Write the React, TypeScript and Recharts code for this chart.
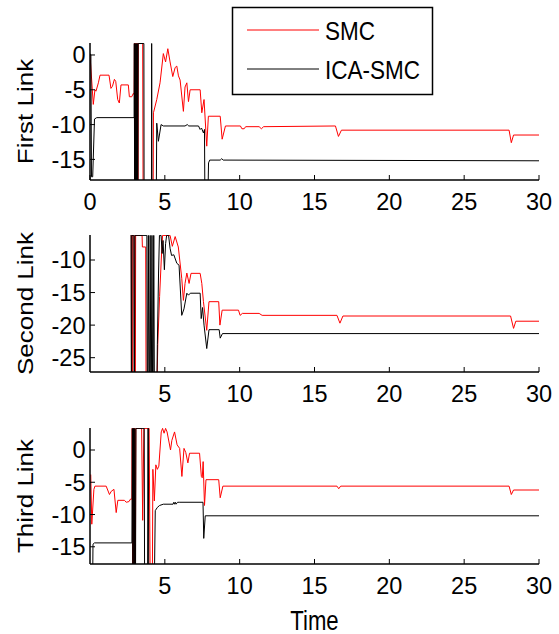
import { LineChart, Line, XAxis, YAxis } from 'recharts'

type Pt = [number, number]

const FONT = '"Liberation Sans", Arial, Helvetica, sans-serif'

const X_TICKS_FIRST = [0, 5, 10, 15, 20, 25, 30]
const X_TICKS = [5, 10, 15, 20, 25, 30]
const Y_TICKS_1 = [-15, -10, -5, 0]
const Y_TICKS_2 = [-25, -20, -15, -10]
const Y_TICKS_3 = [-15, -10, -5, 0]
const LEGEND = ['SMC', 'ICA-SMC']

// [time, value]; the fast switching near t=3..4.4 runs off the axes
const LINK1_SMC: Pt[] = [
  [0, 0], [0.22, -7.1], [0.33, -5.0], [0.4, -5.2], [0.56, -4.0], [0.67, -2.9], [1.27, -2.9],
  [1.4, -4.8], [1.5, -4.5], [1.63, -3.5], [1.72, -3.8], [1.85, -6.4], [1.96, -6.9], [2.07, -4.3],
  [2.56, -4.3], [2.63, -6.0], [2.79, -6.0], [2.9, -5.5], [2.95, -5.7],
  [2.97, 1.65], [3.0, -30], [3.03, 1.65], [3.06, -30], [3.1, 1.65], [3.13, -30], [3.17, 1.65],
  [3.2, -30], [3.23, 1.65], [3.52, 1.65], [3.56, -30], [4.2, -30],
  [4.24, -8.3], [4.46, -6.4], [4.68, -4.0], [4.9, 0.2], [5.05, -1.0], [5.2, 0.9], [5.35, -1.0],
  [5.53, -3.1], [5.69, -1.8], [5.8, -1.6], [5.91, -3.0], [6.02, -3.6], [6.24, -8.1], [6.35, -4.6],
  [6.47, -4.0], [6.58, -6.7], [6.69, -5.0], [7.36, -5.0], [7.47, -8.3], [7.62, -6.4], [7.8, -13.1],
  [7.91, -8.8], [8.7, -8.8], [8.83, -12.1], [9.05, -10.2], [10.05, -10.2], [10.15, -10.6],
  [10.3, -10.6], [10.4, -10.3], [11.3, -10.3], [11.45, -10.6], [11.6, -10.3], [16.4, -10.2],
  [16.6, -11.7], [16.8, -10.8], [28.0, -10.8], [28.15, -12.6], [28.3, -11.5], [30, -11.5],
]
const LINK1_ICA: Pt[] = [
  [0, 0.2], [0.06, 0], [0.1, -17.5], [0.18, -17.5], [0.3, -9.2], [0.45, -9.0], [2.95, -9.0],
  [2.96, 1.65], [2.99, -30], [3.02, 1.65], [3.05, -30], [3.09, 1.65], [3.12, -30], [3.16, 1.65],
  [3.19, -30], [3.22, 1.65], [3.6, 1.65], [3.62, -30], [4.1, -30], [4.12, 1.65], [4.15, -30], [4.4, -30],
  [4.46, -9.8], [4.57, -12.4], [4.75, -10.0], [4.9, -10.2], [6.35, -10.2], [6.5, -10.0], [6.6, -10.2],
  [7.25, -10.2], [7.36, -10.7], [7.45, -10.5], [7.58, -11.2], [7.65, -10.7], [7.7, -30], [7.8, -30],
  [7.92, -15.5], [8.0, -15.1], [8.7, -15.1], [8.8, -14.9], [8.9, -15.1], [30, -15.2],
]

const LINK2_SMC: Pt[] = [
  [0, -3], [2.76, -3], [2.78, -40], [2.84, -40], [2.86, -3], [2.95, -3], [2.97, -40], [3.02, -40],
  [3.05, -6.22], [3.48, -6.22], [3.5, -8.0], [3.72, -8.0], [3.76, -40], [4.38, -40],
  [4.53, -22.8], [4.65, -15.6], [4.76, -10.0], [4.85, -6.22], [5.35, -6.22], [5.5, -7.9],
  [5.69, -6.4], [5.9, -8.0], [6.13, -12.8], [6.24, -16.2], [6.35, -13.6], [6.47, -12.0],
  [6.62, -13.6], [6.75, -12.05], [7.36, -12.05], [7.47, -13.6], [7.58, -16.4], [7.8, -20.8],
  [7.95, -16.4], [8.6, -16.4], [8.68, -20.0], [8.83, -17.7], [9.92, -17.7], [10.03, -18.5],
  [10.18, -18.2], [11.3, -18.2], [11.5, -18.5], [16.5, -18.5], [16.7, -19.7], [16.9, -18.6],
  [28.1, -18.6], [28.3, -20.5], [28.45, -19.4], [30, -19.4],
]
const LINK2_ICA: Pt[] = [
  [0, -4], [2.74, -4], [2.77, -40], [2.8, -6.22], [2.93, -6.22], [2.96, -40], [3.0, -6.22],
  [3.8, -6.22], [3.84, -40], [3.9, -6.22], [3.96, -40], [4.02, -6.22], [4.08, -40], [4.14, -6.22],
  [4.2, -40], [4.26, -6.22], [4.32, -40], [4.42, -40], [4.5, -23], [4.58, -12], [4.64, -6.22],
  [4.75, -6.22], [4.82, -9.0], [4.88, -7.0], [4.97, -11.5], [5.05, -7.5], [5.12, -6.22],
  [5.25, -6.22], [5.35, -8.2], [5.45, -9.3], [5.6, -9.2], [5.8, -10.5], [5.95, -10.8],
  [6.13, -18.5], [6.28, -17.5], [6.47, -15.1], [6.58, -15.4], [6.7, -15.1], [7.36, -15.1],
  [7.43, -19.0], [7.52, -17.3], [7.62, -20.0], [7.8, -23.6], [7.95, -20.7], [8.63, -20.7],
  [8.7, -22.0], [8.85, -21.3], [30, -21.3],
]

const LINK3_SMC: Pt[] = [
  [0.05, -3.8], [0.12, -11.5], [0.26, -6.1], [0.33, -5.6], [1.08, -5.6], [1.3, -6.9], [1.42, -6.4],
  [1.6, -6.1], [1.75, -9.7], [1.86, -7.8], [2.3, -7.8], [2.42, -8.1], [2.6, -8.0], [2.71, -7.6],
  [2.8, -7.6], [2.82, 3.35], [2.86, -30], [2.9, 3.35], [2.94, -30], [2.98, 3.35], [3.02, -30],
  [3.06, 3.35], [3.45, 3.35], [3.52, -10.9], [3.6, 3.35], [3.95, 3.35], [4.05, -30], [4.15, -30],
  [4.2, -3.0], [4.3, -7.9], [4.4, -2.3], [4.5, -3.0], [4.6, -2.5], [4.76, 2.8], [4.85, 3.35],
  [4.95, 2.6], [5.05, 3.35], [5.15, 2.8], [5.38, 0], [5.47, 1.5], [5.65, 2.8], [5.82, 0.8],
  [5.99, 0.25], [6.14, -4.1], [6.28, 0.25], [6.4, -0.4], [6.54, -2.0], [6.65, -0.5], [7.32, -0.5],
  [7.44, -4.1], [7.5, -4.3], [7.56, -1.8], [7.65, -8.6], [7.75, -4.6], [8.6, -4.6], [8.7, -7.4],
  [8.88, -5.6], [16.5, -5.6], [16.62, -6.0], [16.75, -5.6], [28.0, -5.6], [28.15, -6.9],
  [28.3, -6.2], [30, -6.2],
]
const LINK3_ICA: Pt[] = [
  [0.06, -30], [0.14, -30], [0.2, -14.6], [0.3, -14.4], [2.8, -14.4], [2.83, 3.35], [2.87, -30],
  [2.91, 3.35], [2.95, -30], [2.99, 3.35], [3.03, -30], [3.07, 3.35], [3.62, 3.35], [3.66, -30],
  [3.84, -30], [3.87, 3.35], [3.9, 3.35], [3.93, -30], [4.25, -30], [4.36, -9.4], [4.5, -8.9],
  [4.65, -8.6], [4.9, -8.4], [5.55, -8.4], [5.6, -8.1], [5.65, -8.4], [5.7, -8.1], [5.75, -8.4],
  [5.85, -8.1], [6.0, -8.1], [7.55, -8.1], [7.6, -13.7], [7.7, -10.2], [30, -10.2],
]

const toRows = (pts: Pt[]) => pts.map(([t, v]) => ({ t, v }))

const XTick = ({ x, y, payload }: any) => (
  <g>
    <line x1={x} x2={x} y1={y} y2={y - 5} stroke="#000" />
    <text x={x} y={y + 30} textAnchor="middle" fontSize={23.5} fontFamily={FONT} fill="#000">
      {payload.value}
    </text>
  </g>
)

const YTick = ({ x, y, payload }: any) => (
  <g>
    <line x1={x} x2={x + 5} y1={y} y2={y} stroke="#000" />
    <text x={x - 4.5} y={y + 8.4} textAnchor="end" fontSize={23.5} fontFamily={FONT} fill="#000">
      {payload.value}
    </text>
  </g>
)

const YTitle = ({ viewBox, text }: any) => (
  <text transform={`translate(33,${viewBox.y + viewBox.height / 2}) scale(0.82,1) rotate(-90)`}
    textAnchor="middle" fontSize={26} fontFamily={FONT} fill="#000">{text}</text>
)

const XTitle = ({ viewBox, text }: any) => (
  <text transform={`translate(${viewBox.x + viewBox.width / 2},${viewBox.y + 66}) scale(0.82,1)`}
    textAnchor="middle" fontSize={27} fontFamily={FONT} fill="#000">{text}</text>
)

function Panel({ top, plotH, name, smc, ica, domain, yTicks, xTicks, xTitle }: any) {
  const axisH = xTitle ? 70 : 50
  return (
    <div style={{ position: 'absolute', left: 0, top }}>
      <LineChart width={559} height={43 + plotH + axisH} margin={{ top: 43, right: 20, bottom: 0, left: 0 }}>
        <XAxis type="number" dataKey="t" domain={[0, 30]} ticks={xTicks} interval={0} allowDataOverflow
          height={axisH} tickSize={0} tickMargin={0} tickLine={false} tick={<XTick />}
          axisLine={{ stroke: '#000', strokeWidth: 1.5 }}
          label={xTitle ? { content: (p: any) => <XTitle viewBox={p.viewBox} text={xTitle} /> } : undefined} />
        <YAxis type="number" domain={domain} ticks={yTicks} interval={0} allowDataOverflow width={90}
          tickSize={0} tickMargin={0} tickLine={false} tick={<YTick />}
          axisLine={{ stroke: '#000', strokeWidth: 1.5 }}
          label={{ content: (p: any) => <YTitle viewBox={p.viewBox} text={name} /> }} />
        <Line data={toRows(smc)} dataKey="v" name={LEGEND[0]} type="linear" stroke="#ff0000"
          strokeWidth={1} dot={false} isAnimationActive={false} />
        <Line data={toRows(ica)} dataKey="v" name={LEGEND[1]} type="linear" stroke="#000000"
          strokeWidth={1} dot={false} isAnimationActive={false} />
      </LineChart>
    </div>
  )
}

export default function App() {
  return (
    <div style={{ position: 'absolute', left: 0, top: 0, width: 559, height: 634, background: '#fff' }}>
      <Panel top={0} plotH={137} name="First Link" smc={LINK1_SMC} ica={LINK1_ICA}
        domain={[-17.96, 1.72]} yTicks={Y_TICKS_1} xTicks={X_TICKS_FIRST} />
      <Panel top={192} plotH={137} name="Second Link" smc={LINK2_SMC} ica={LINK2_ICA}
        domain={[-27.2, -6.16]} yTicks={Y_TICKS_2} xTicks={X_TICKS} />
      <Panel top={385} plotH={136} name="Third Link" smc={LINK3_SMC} ica={LINK3_ICA}
        domain={[-17.67, 3.41]} yTicks={Y_TICKS_3} xTicks={X_TICKS} xTitle="Time" />
      <svg width={559} height={100} style={{ position: 'absolute', left: 0, top: 0 }}>
        <rect x={232.5} y={7.5} width={200} height={87} fill="#fff" stroke="#000" strokeWidth={1.5} />
        <line x1={247} x2={319} y1={30} y2={30} stroke="#ff0000" />
        <text transform="translate(325,40) scale(0.9,1)" fontSize={25} fontFamily={FONT} fill="#000">{LEGEND[0]}</text>
        <line x1={247} x2={319} y1={69} y2={69} stroke="#000" />
        <text transform="translate(325,79) scale(0.9,1)" fontSize={25} fontFamily={FONT} fill="#000">{LEGEND[1]}</text>
      </svg>
    </div>
  )
}
